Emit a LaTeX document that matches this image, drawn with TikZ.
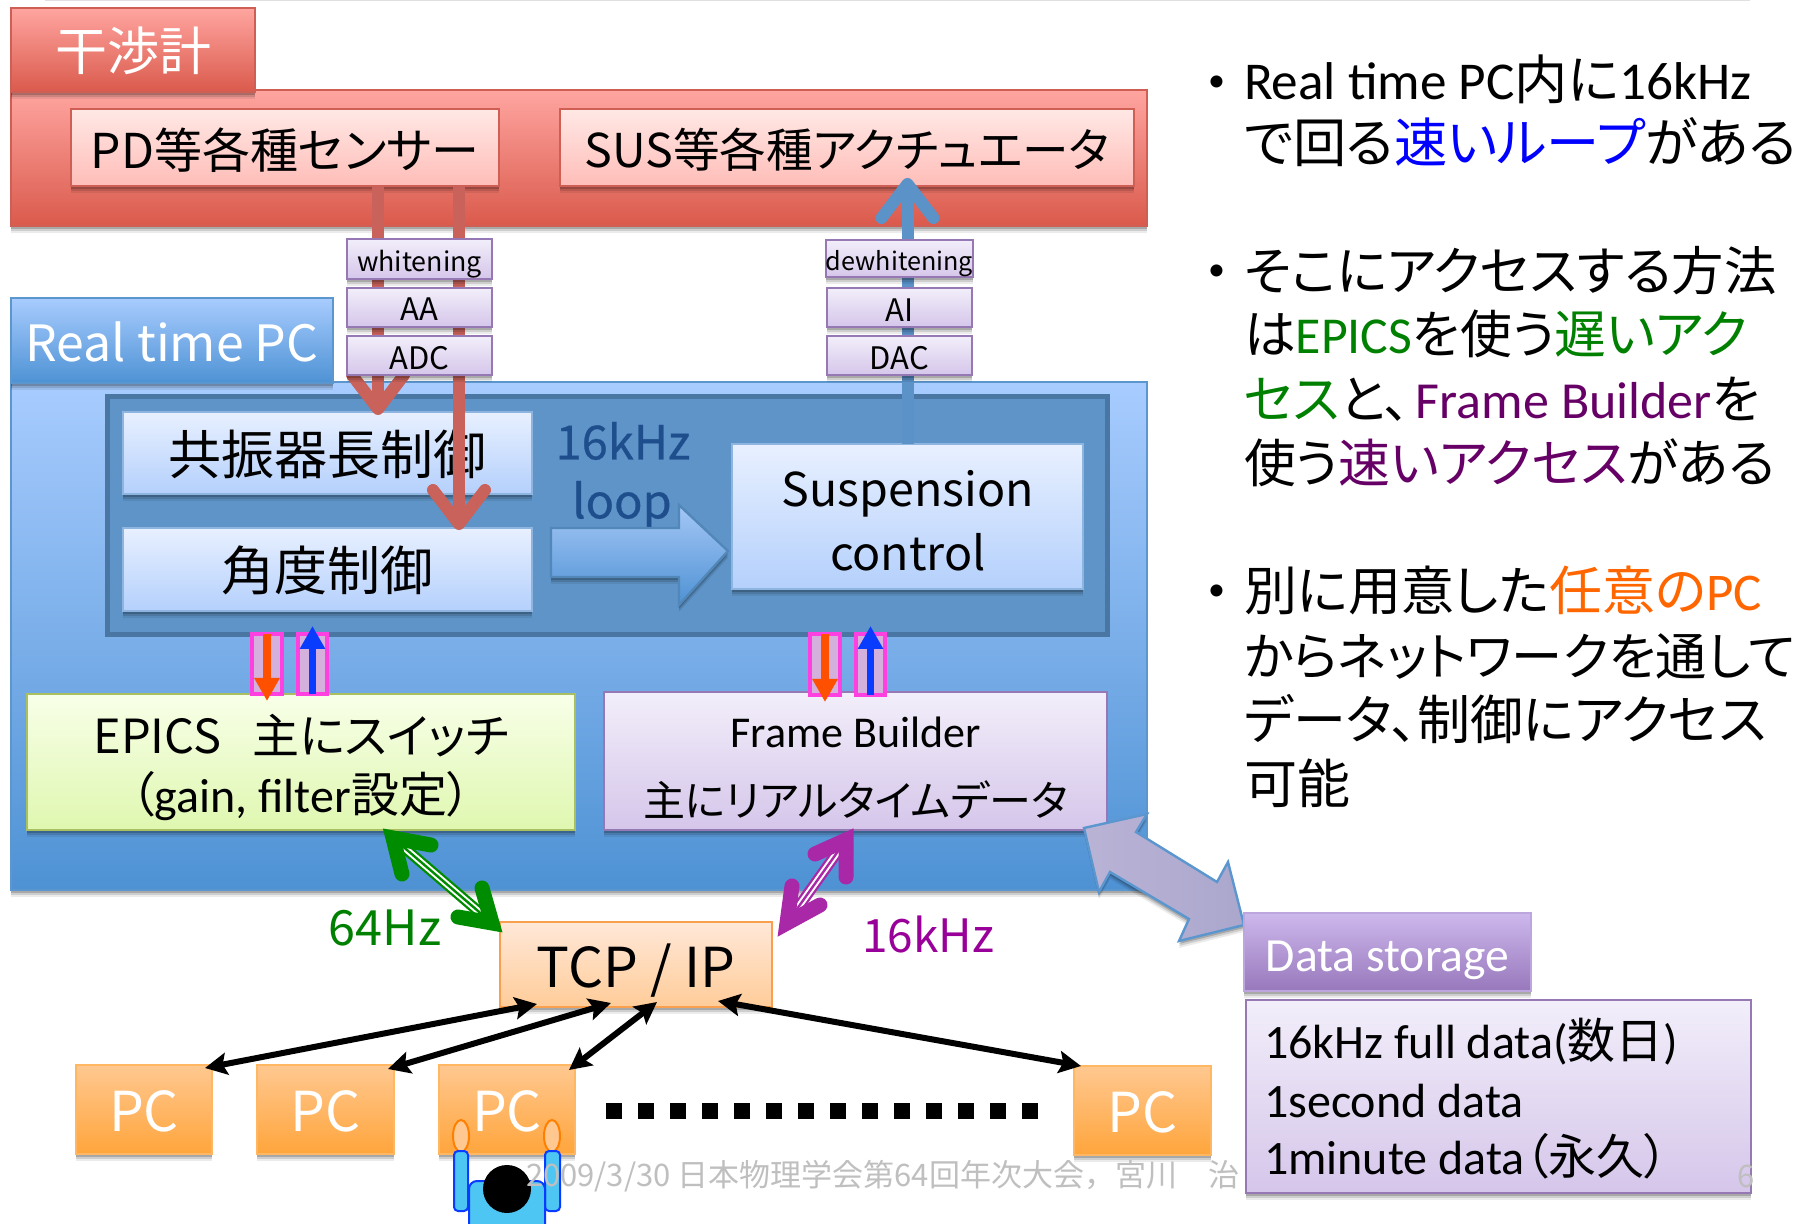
\documentclass[tikz,border=0pt]{standalone}
\usepackage{fontspec}
\usetikzlibrary{arrows.meta,shadows,calc}
\setmainfont{Carlito}
\newfontfamily\cjk[RawFeature=+palt]{Noto Sans CJK JP}
\newfontfamily\cjkfull{Noto Sans CJK JP}
\newfontfamily\cjkb[RawFeature=+palt,FakeBold=0.6]{Noto Sans CJK JP}
\newcommand{\J}[1]{{\cjk #1}}
\newcommand{\fz}[2]{\fontsize{#1}{#2}\selectfont}
\newcommand{\dn}[2]{\vbox{\vskip #1pt\vskip #1pt\hbox{#2}}}
\definecolor{cRedL}{HTML}{FFA5A0}\definecolor{cRedD}{HTML}{DA5A4C}\definecolor{cRedB}{HTML}{CF5F55}
\definecolor{cPkL}{HTML}{FFE8E5}\definecolor{cPkD}{HTML}{FFBDB8}
\definecolor{cPuL}{HTML}{F2EEFA}\definecolor{cPuD}{HTML}{D5C6EA}\definecolor{cPuB}{HTML}{9678B4}
\definecolor{cBlL}{HTML}{A8CCFF}\definecolor{cBlD}{HTML}{4E92D4}\definecolor{cBlB}{HTML}{5B96CF}
\definecolor{cInner}{HTML}{5E94C8}\definecolor{cInnerB}{HTML}{4A76A4}
\definecolor{cBoxL}{HTML}{E8F0FF}\definecolor{cBoxD}{HTML}{B4D0FC}\definecolor{cBoxB}{HTML}{8EB4E0}
\definecolor{cGrL}{HTML}{F8FFE8}\definecolor{cGrD}{HTML}{DFF7B0}\definecolor{cGrB}{HTML}{A8C060}
\definecolor{cOrL}{HTML}{FFE8D8}\definecolor{cOrD}{HTML}{FFCC99}\definecolor{cOrB}{HTML}{F8A050}
\definecolor{cPcL}{HTML}{FFC890}\definecolor{cPcD}{HTML}{FFA53C}
\definecolor{cDsL}{HTML}{CDB8EC}\definecolor{cDsD}{HTML}{9878BC}
\definecolor{cRedA}{HTML}{C8625A}\definecolor{cBlueA}{HTML}{5B92C8}
\definecolor{cGreen}{HTML}{008C00}\definecolor{cPurp}{HTML}{A828A8}
\definecolor{cPink}{HTML}{FF40E0}\definecolor{cPinkF}{HTML}{D4B0DC}
\definecolor{cOrangeA}{HTML}{FF5000}\definecolor{cBlueB}{HTML}{0A3CFF}
\definecolor{cLoop}{HTML}{1F4E8C}\definecolor{cFoot}{HTML}{BFBFBF}
\definecolor{cMag}{HTML}{990099}\definecolor{cVio}{HTML}{660066}\definecolor{cGrT}{HTML}{008000}\definecolor{cOrT}{HTML}{FF6600}
\definecolor{cDaL}{HTML}{B9B4D6}\definecolor{cDaR}{HTML}{ABA6CC}
\tikzset{
  shad/.style={
    drop shadow={shadow xshift=0pt,shadow yshift=-3.5pt,opacity=0.08,fill=black},
    drop shadow={shadow xshift=0pt,shadow yshift=-2.5pt,opacity=0.12,fill=black},
    drop shadow={shadow xshift=0pt,shadow yshift=-1.5pt,opacity=0.18,fill=black}},
  base/.style={rectangle,inner sep=0pt,outer sep=0pt,align=center,line width=1.2pt},
  redbox/.style={base,shad,top color=cRedL,bottom color=cRedD,draw=cRedB},
  pinkbox/.style={base,shad,top color=cPkL,bottom color=cPkD,draw=cRedB},
  purbox/.style={base,shad,top color=cPuL,bottom color=cPuD,draw=cPuB},
  bluebox/.style={base,shad,top color=cBlL,bottom color=cBlD,draw=cBlB},
  lightbox/.style={base,shad,top color=cBoxL,bottom color=cBoxD,draw=cBoxB},
  greenbox/.style={base,shad,top color=cGrL,bottom color=cGrD,draw=cGrB},
  tcpbox/.style={base,shad,top color=cOrL,bottom color=cOrD,draw=cOrB},
  pcbox/.style={base,shad,top color=cPcL,bottom color=cPcD,draw=cPcD!80!white,text=white},
  dsbox/.style={base,shad,top color=cDsL,bottom color=cDsD,draw=cDsL!70!cDsD,text=white},
  pinkrect/.style={base,fill=cPinkF,draw=cPink,line width=1.6pt},
  label/.style={inner sep=0pt,outer sep=0pt},
  clabel/.style={label,align=center},
  rl/.style={label,anchor=base west},
  fatred/.style={draw=cRedA,line width=6pt,-{Straight Barb[length=17pt,width=26pt,round]}},
  fatblue/.style={draw=cBlueA,line width=6pt,-{Straight Barb[length=17pt,width=26pt,round]}},
  thin down/.style={draw=cOrangeA,line width=3.75pt,-{Triangle[length=11.5pt,width=12pt]}},
  thin up/.style={draw=cBlueB,line width=3.75pt,-{Triangle[length=11.5pt,width=12pt]}},
  blackarrow/.style={draw=black,line width=3pt,{Stealth[length=11pt,width=11pt,inset=2pt]}-{Stealth[length=11pt,width=11pt,inset=2pt]}},
  headarm/.style={line width=7.5pt,line cap=round,line join=miter,miter limit=20},
}
\newcommand{\rbox}[7][]{\node[#2,#1,minimum width={(#5-#3)*0.5pt},minimum height={(#6-#4)*0.5pt}] (#7) at ({(#3+#5)/2},{(#4+#6)/2})}
\begin{document}
\begin{tikzpicture}[x=0.5pt,y=-0.5pt]
\useasboundingbox (0,0) rectangle (1800,1224);
\fill[white] (0,0) rectangle (1800,1224);
\fill[black!12] (45,0) rectangle (1750,1.5);

% red block
\rbox{redbox}{11}{90}{1147}{226}{redpanel} {};
\rbox{redbox}{11}{8}{255}{92}{tabred} {\dn{0.6}{\color{white}\J{\fz{26}{30}干渉計}}};
\rbox{pinkbox}{71}{109}{499}{186}{pd} {\dn{1.2}{\J{\fz{24}{28}PD等各種センサー}}};
\rbox{pinkbox}{560}{109}{1134}{186}{sus} {\dn{1.2}{\J{\fz{23.3}{28}SUS等各種アクチュエータ}}};

% blue block
\rbox{bluebox}{11}{382}{1147}{890}{bluepanel} {};
\rbox{bluebox}{11}{298}{333}{383}{tabblue} {\dn{0.6}{\color{white}\J{\fz{25}{30}Real time PC}}};
\node[base,fill=cInner,draw=cInnerB,line width=2.5pt,minimum width=500pt,minimum height=119pt] (inner) at (607.5,516) {};
\rbox{lightbox}{123}{412}{532}{494}{cav} {\dn{0.6}{\J{\fz{26.5}{30}共振器長制御}}};
\rbox{lightbox}{123}{528}{532}{611}{ang} {\dn{0.6}{\J{\fz{26.5}{30}角度制御}}};
\rbox{lightbox}{732}{444}{1083}{589}{susp} {};
\node[clabel,font=\cjk\fz{23.3}{32}] (susptxt) at (908,521) {Suspension\\control};
\node[label,text=cLoop] (t16) at (623,441) {{\cjkb\fz{23.5}{28}16kHz}};
\node[label,text=cLoop] (tloop) at (622,505) {{\cjkb\fz{23.5}{28}loop}};
\draw[line width=1.2pt,draw=cBlB!90!black,top color=cBoxD!85!cBlD,bottom color=cBlD,shad]
  (551,528) -- (679,528) -- (679,505) -- (728,551) -- (679,605) -- (679,577) -- (551,577) -- cycle;

% connectors through filter stages
\coordinate (r1) at (378,0);
\coordinate (r2) at (459,0);
\draw[fatred] (pd.south -| r1) -- ($(cav.north -| r1)+(0,3)$);
\draw[fatred] (pd.south -| r2) -- ($(ang.north -| r2)+(0,2)$);
\draw[fatblue,shorten >=-4pt] (susp.north) -- (susp.north |- sus.south);

\rbox{purbox}{347}{239}{492}{279}{white} {\dn{2.8}{\J{\fz{13.4}{15}whitening}}};
\rbox{purbox}{347}{288}{492}{327}{aa} {\dn{0.6}{\J{\fz{15.5}{17}AA}}};
\rbox{purbox}{347}{336}{492}{375}{adc} {\dn{1.1}{\J{\fz{15.5}{17}ADC}}};
\rbox{purbox}{827}{240}{972}{277}{dewhite} {\dn{2.8}{\J{\fz{12.6}{15}dewhitening}}};
\rbox{purbox}{827}{288}{972}{327}{ai} {\dn{1.1}{\J{\fz{15.5}{17}AI}}};
\rbox{purbox}{827}{336}{972}{375}{dac} {\dn{1.1}{\J{\fz{15.5}{17}DAC}}};

% EPICS / Frame Builder
\rbox{greenbox}{27}{694}{575}{830}{epics} {};
\node[clabel,font=\fz{24}{29.5}] (epicstxt) at (301,767) {\J{\fz{23.5}{29.5}EPICS\ \ \ 主にスイッチ}\\\J{（}gain, filter\J{設定）}};
\rbox{purbox}{604}{692}{1107}{830}{frame} {};
\node[clabel,font=\fz{22}{34.5}] (frametxt) at (855.5,768) {Frame Builder\\\J{\fz{21}{34.5}主にリアルタイムデータ}};

\rbox{pinkrect}{252}{634}{282}{694}{pa} {};
\rbox{pinkrect}{298}{634}{327}{694}{pb} {};
\rbox{pinkrect}{810}{634}{840}{695}{pc} {};
\rbox{pinkrect}{856}{634}{885}{695}{pd2} {};
\draw[thin down] (pa.north) -- ($(pa.south)+(0,7)$);
\draw[thin up] (pb.south) -- ($(pb.north)+(0,-8)$);
\draw[thin down] (pc.north) -- ($(pc.south)+(0,7)$);
\draw[thin up] (pd2.south) -- ($(pd2.north)+(0,-8)$);

% TCP and PCs
\rbox{tcpbox}{500}{922}{772}{1007}{tcp} {\dn{2.9}{\J{\fz{27.5}{30}TCP\ /\ IP}}};
\rbox{pcbox}{76}{1065}{212}{1154}{pc1} {\dn{1.1}{\J{\fz{27.5}{30}PC}}};
\rbox{pcbox}{257}{1065}{394}{1154}{pc2} {\dn{1.1}{\J{\fz{27.5}{30}PC}}};
\rbox{pcbox}{439}{1065}{575}{1154}{pc3} {\dn{1.1}{\J{\fz{27.5}{30}PC}}};
\rbox{pcbox}{1074}{1066}{1211}{1155}{pc4} {\dn{1.1}{\J{\fz{27.5}{30}PC}}};
\draw[blackarrow] ($(pc1.north east)+(-7,3)$) -- ($(tcp.south west)+(37,-3)$);
\draw[blackarrow] ($(pc2.north east)+(-6,4)$) -- ($(tcp.south west)+(111,-4)$);
\draw[blackarrow] ($(pc3.north east)+(-6,5)$) -- ($(tcp.south west)+(157,-5)$);
\draw[blackarrow] ($(tcp.south east)+(-54,-6)$) -- ($(pc4.north west)+(7,0)$);
\draw[line width=8pt,dash pattern=on 8pt off 8pt] (606,1111) -- (1038,1111);

% green double arrow
\coordinate (ga) at (393,838);
\coordinate (gb) at (492,923);
\draw[cGreen,line width=5.5pt] (ga) -- (gb);
\draw[white,line width=3.2pt] (ga) -- (gb);
\draw[cGreen,line width=1.2pt] (ga) -- (gb);
\draw[cGreen,headarm] (431,845) -- (ga) -- (402,874);
\draw[cGreen,headarm] (482,888) -- (gb) -- (458,917);
% purple double arrow
\coordinate (pa1) at (846,840);
\coordinate (pb1) at (787,923);
\draw[cPurp,line width=5.5pt] (pa1) -- (pb1);
\draw[white,line width=3.2pt] (pa1) -- (pb1);
\draw[cPurp,line width=1.2pt] (pa1) -- (pb1);
\draw[cPurp,headarm] (815,854) -- (pa1) -- (846,877);
\draw[cPurp,headarm] (792,886) -- (pb1) -- (820,905);

\node[label,text=cGrT] (t64) at (385,928) {\J{\fz{24.3}{28}64Hz}};
\node[label,text=cMag] (t16k) at (928,934) {\J{\fz{23}{28}16kHz}};

% data storage
\draw[line width=1.2pt,draw=cBlB,left color=cDaL,right color=cDaR,shad]
  (1084,828) -- (1147,814) -- (1136,832) -- (1217,882) -- (1228,862) -- (1244,925) -- (1179,941) -- (1189,919) -- (1110,872) -- (1099,892) -- cycle;
\rbox{dsbox}{1244}{913}{1531}{991}{dstab} {\dn{4}{\fz{23.8}{28}Data storage}};
\rbox{purbox}{1246}{1000}{1751}{1193}{dsbox} {};
\node[label,anchor=west] (d1) at (1264,1042) {\fz{24}{28}16kHz full data(\J{数日})};
\node[label,anchor=west] (d2) at (1264,1101) {\fz{24}{28}1second data};
\node[label,anchor=west] (d3) at (1264,1156) {\fz{24}{28}1minute data\J{（永久）}};

% person
\draw[draw=orange,fill=cPcL,line width=1pt] (461,1136) ellipse [x radius=8,y radius=16];
\draw[draw=orange,fill=cPcL,line width=1pt] (552,1136) ellipse [x radius=8,y radius=16];
\draw[draw=cBlueB,fill=cyan!70!white,line width=1pt,rounded corners=2pt] (454,1151) rectangle (468,1211);
\draw[draw=cBlueB,fill=cyan!70!white,line width=1pt,rounded corners=2pt] (545,1151) rectangle (560,1211);
\draw[draw=cBlueB,fill=cyan!70!white,line width=1pt,rounded corners=4pt] (469,1226) -- (469,1181) -- (545,1181) -- (545,1226);
\fill[black] (507,1189) circle [radius=24];

% footer
\node[label,anchor=west,text=cFoot] (foot) at (526,1176) {\cjkfull\fz{15.5}{18}2009/3/30 日本物理学会第64回年次大会，宮川　治};
\node[label,text=cFoot] (pageno) at (1746,1176) {\cjkfull\fz{15.5}{18}6};

% right text
\node[rl,font=\fz{17}{20}] (b1) at (1208,92) {•};
\node[rl,font=\fz{26.6}{30}] (l1) at (1244,100) {Real time PC\J{内に}16kHz};
\node[rl,font=\fz{26.6}{30}] (l2) at (1244,163) {\J{で回る\textcolor{blue}{速いループ}がある}};
\node[rl,font=\fz{17}{20}] (b2) at (1208,281) {•};
\node[rl,font=\fz{26.2}{30}] (l3) at (1244,291) {\J{そこにアクセスする方法}};
\node[rl,font=\fz{25.9}{30}] (l4) at (1244,354) {\J{は}\textcolor{cGrT}{EPICS}\J{を使う\textcolor{cGrT}{遅いアク}}};
\node[rl,font=\fz{26}{30}] (l5) at (1244,419) {\J{\textcolor{cGrT}{セス}と、}\hspace{3pt}\textcolor{cVio}{Frame Builder}\J{を}};
\node[rl,font=\fz{25.9}{30}] (l6) at (1244,483) {\J{使う\textcolor{cVio}{速いアクセス}がある}};
\node[rl,font=\fz{17}{20}] (b3) at (1208,601) {•};
\node[rl,font=\fz{26.5}{30}] (l7) at (1244,611) {\J{別に用意した\textcolor{cOrT}{任意の}}\textcolor{cOrT}{PC}};
\node[rl,font=\fz{25.6}{30}] (l8) at (1244,676) {\J{からネットワークを通して}};
\node[rl,font=\fz{26.5}{30}] (l9) at (1244,740) {\J{データ、制御にアクセス}};
\node[rl,font=\fz{26.5}{30}] (l10) at (1244,804) {\J{可能}};
\end{tikzpicture}
\end{document}
